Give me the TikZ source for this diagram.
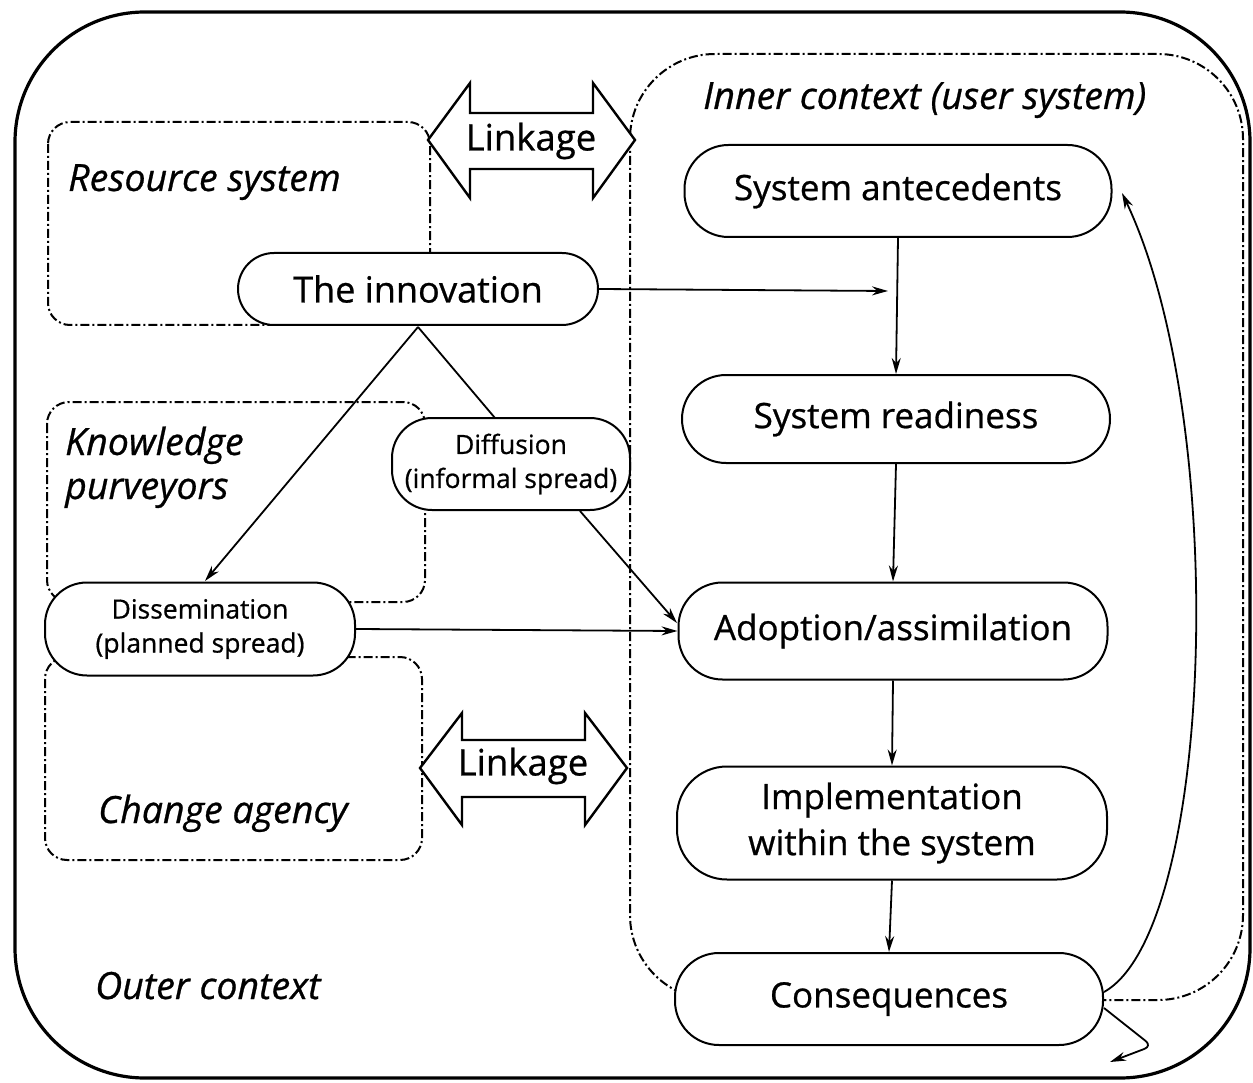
\documentclass[tikz,border=0pt]{standalone}
\usepackage{fontspec}
\setmainfont{Open Sans}[FakeBold=0.7]
\usetikzlibrary{arrows.meta}
\begin{document}
\begin{tikzpicture}[x=1pt,y=-1pt,
  bignode/.style={draw, line width=2pt, fill=white, rounded corners=44pt, inner sep=0pt, align=center, font=\fontsize{35}{46}\selectfont},
  smallnode/.style={draw, line width=2pt, fill=white, rounded corners=44pt, inner sep=0pt, align=center, font=\fontsize{26.5}{34}\selectfont},
  region/.style={draw, line width=2pt, dash pattern=on 9pt off 3pt on 2pt off 3pt, rounded corners=22pt},
  lbl/.style={font=\fontsize{37.5}{46}\selectfont\itshape, inner sep=0pt, anchor=base west},
  conn/.style={line width=1.8pt, -{Stealth[length=16pt,width=9pt]}},
  plainconn/.style={line width=1.8pt},
  dblarrow/.style={draw, line width=2.4pt, fill=white, line join=miter},
  linktext/.style={font=\fontsize{36.5}{42}\selectfont, inner sep=0pt}
]
\useasboundingbox (0,0) rectangle (1253,1083);
% outer context
\draw[line width=3.2pt, rounded corners=130pt] (15,12) rectangle (1250,1078);
% inner context
\draw[region, rounded corners=85pt] (630,54) rectangle (1243,1000);
% left regions
\draw[region] (48,122) rectangle (430,325);
\draw[region] (47,402) rectangle (425,602);
\draw[region] (45,657) rectangle (422,860);

% labels
\node[lbl] (lres) at (68,191) {Resource system};
\node[lbl] (lknow1) at (65,455) {Knowledge};
\node[lbl] (lknow2) at (65,499) {purveyors};
\node[lbl] (lchange) at (98,823) {Change agency};
\node[lbl] (louter) at (95,999) {Outer context};
\node[lbl] (linner) at (703,109) {Inner context (user system)};

% linkage double arrows
\draw[dblarrow] (428,140) -- (470,83) -- (470,113) -- (593,113) -- (593,83) -- (635,140)
  -- (593,198) -- (593,169) -- (470,169) -- (470,198) -- cycle;
\node[linktext] (link1) at (531,141) {Linkage};
\draw[dblarrow] (420,768) -- (462,713) -- (462,740) -- (585,740) -- (585,713) -- (627,768)
  -- (585,825) -- (585,797) -- (462,797) -- (462,825) -- cycle;
\node[linktext] (link2) at (523,766) {Linkage};

% nodes
\node[bignode, minimum width=360pt, minimum height=72pt, rounded corners=36pt, font=\fontsize{36}{46}\selectfont] (innov) at (418,289) {The innovation};
\node[bignode, minimum width=427pt, minimum height=92pt] (ante) at (898,191) {System antecedents};
\node[bignode, minimum width=428pt, minimum height=88pt] (ready) at (896,419) {System readiness};
\node[bignode, minimum width=429pt, minimum height=97pt] (adopt) at (893,631) {Adoption/assimilation};
\node[bignode, minimum width=430pt, minimum height=113pt, rounded corners=50pt] (impl) at (892,823) {Implementation\\within the system};
\node[bignode, minimum width=428pt, minimum height=92pt] (conseq) at (889,999) {Consequences};
\node[smallnode, minimum width=238pt, minimum height=92pt, rounded corners=40pt] (diff) at (511,464) {Diffusion\\(informal spread)};
\node[smallnode, minimum width=310pt, minimum height=93pt, rounded corners=42pt] (dissem) at (200,629) {Dissemination\\(planned spread)};

% connectors
\coordinate (mid1) at (888,291);
\coordinate (fork) at (418,327);
\coordinate (loopbend) at (1152,1046);
\coordinate (looptip) at (1110,1062);
\draw[conn] (innov.east) -- (mid1);
\draw[conn] (ante.south) -- (ready.north);
\draw[conn] (ready.south) -- (adopt.north);
\draw[conn] (adopt.south) -- (impl.north);
\draw[conn] (impl.south) -- (conseq.north);
\draw[conn] (fork) -- (205,581) coordinate (dtop);
\draw[plainconn] (fork) -- (495,418) coordinate (difftop);
\draw[conn] (580,511) coordinate (diffbot) -- (677,623) coordinate (adoptw);
\draw[conn] (dissem.east) -- (adopt.west);
\draw[conn] (1104,992) coordinate (cne) .. controls (1215,930) and (1230,420) .. (1122,193) coordinate (ante-e);
\draw[conn, rounded corners=8pt] (1104,1008) coordinate (cse) -- (loopbend) -- (looptip);
\end{tikzpicture}
\end{document}
